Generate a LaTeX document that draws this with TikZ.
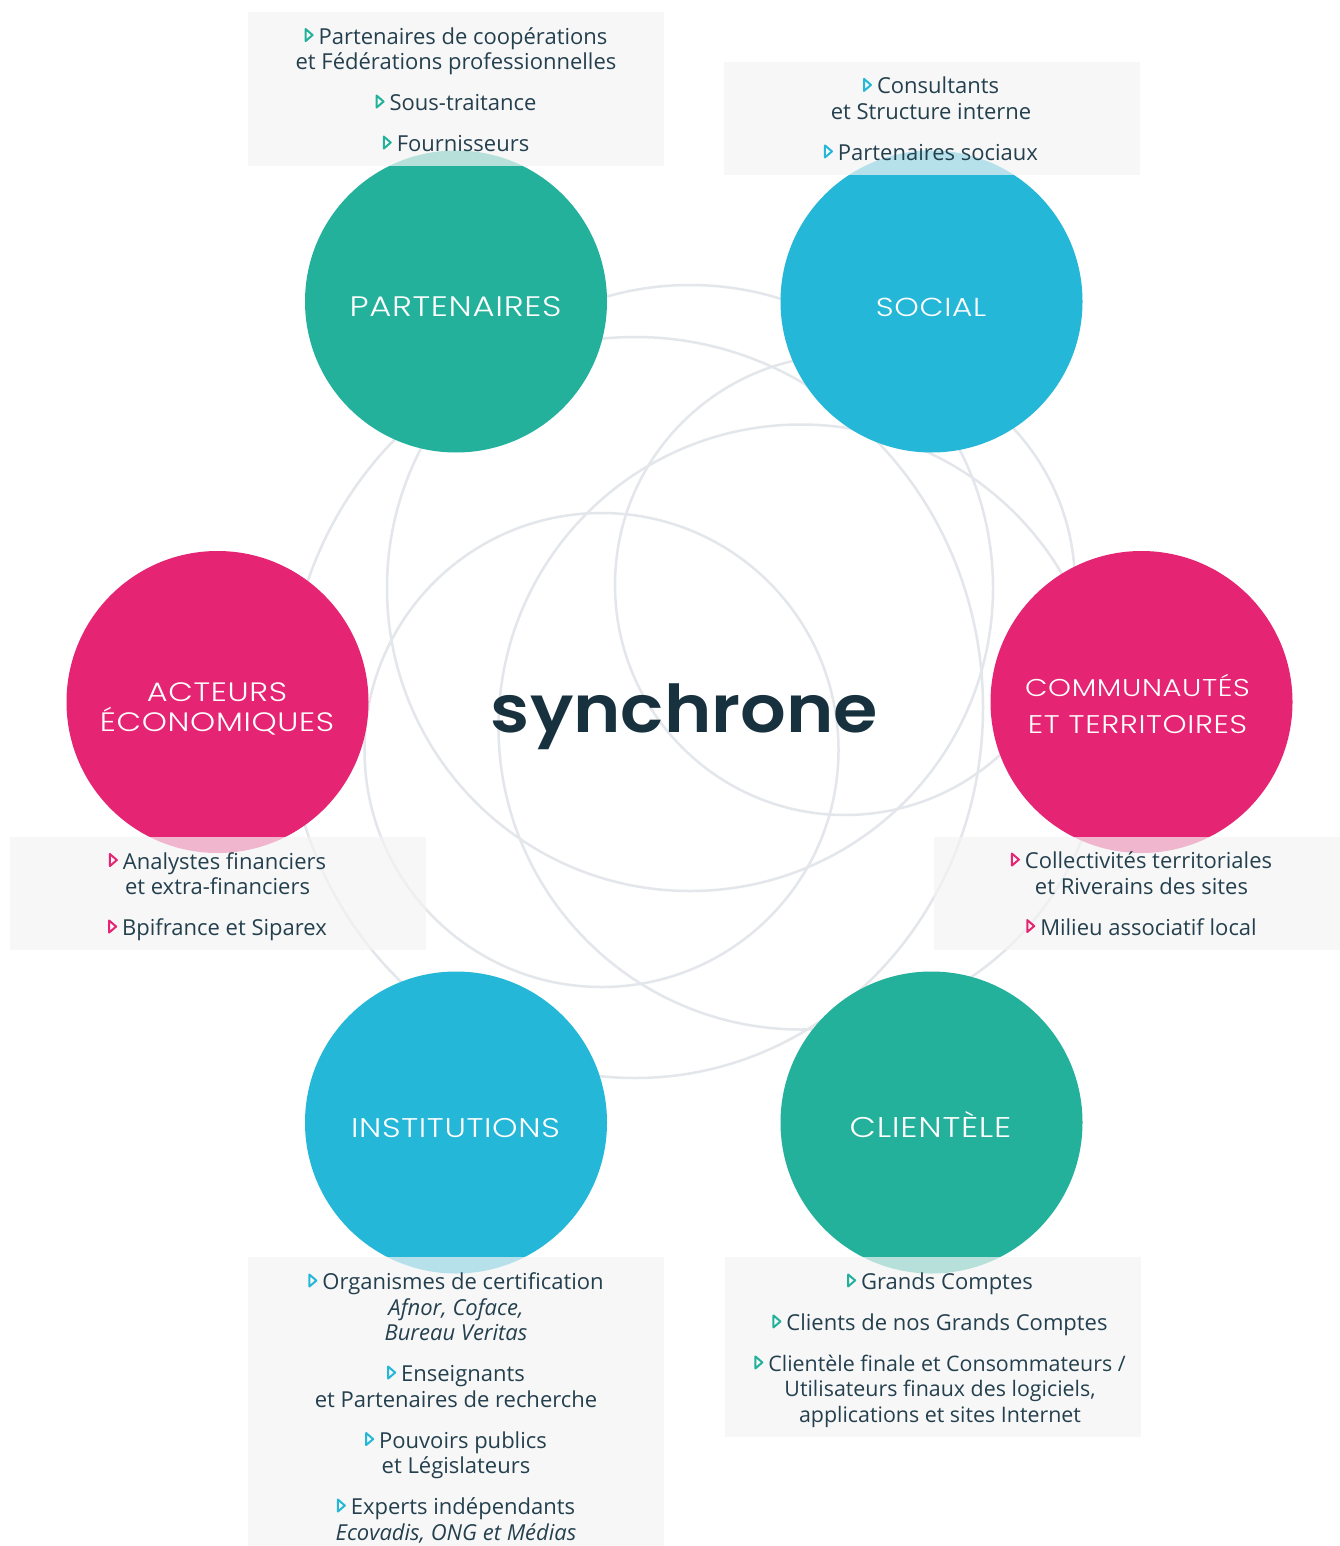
\documentclass[tikz,border=0pt]{standalone}
\usepackage{fontspec}
\usepackage{graphicx}
\setmainfont{Open Sans}
\newfontfamily\lblfont[UprightFont=* Light,FakeStretch=1.2,LetterSpace=2.5]{Poppins}
\newfontfamily\logofont[UprightFont=* SemiBold]{Poppins}
\definecolor{teal1}{HTML}{24B19C}
\definecolor{blue1}{HTML}{25B7D8}
\definecolor{pink1}{HTML}{E52574}
\definecolor{ink}{HTML}{24404E}
\definecolor{logoink}{HTML}{17313E}
\definecolor{ringgrey}{HTML}{E3E6EA}
\definecolor{boxgrey}{HTML}{F4F4F4}
\newcommand{\mrk}[1]{\tikz[baseline=-3pt,x=1pt,y=1pt]\draw[#1,line width=2pt,line join=round](1,0)--(1,12)--(8,6)--cycle;\hspace{5pt}}
\newcommand{\smalltxt}{\fontsize{21.4}{25.5}\selectfont}
\tikzset{
  ring/.style={draw=ringgrey,line width=2.5pt},
  disc/.style={circle,minimum size=302pt,inner sep=0pt},
  lbl/.style={text=white,font=\lblfont\fontsize{#1}{30}\selectfont,inner sep=0pt,anchor=base},
  panel/.style={fill=boxgrey,fill opacity=.7},
  itemtxt/.style={text=ink,font=\fontsize{22}{25.5}\selectfont,align=center,inner sep=0pt,anchor=north}
}
\begin{document}
\begin{tikzpicture}[x=1pt,y=-1pt]
                      \useasboundingbox (0,0) rectangle (1340,1546);
                      \fill[white] (0,0) rectangle (1340,1546);
                      \foreach \cx/\cy/\rx/\ry in {690/588/303/303, 635/707.5/348/370.5, 845/585/230/230, 801/727/302.5/302.5, 601.5/750/237/237}
                        \draw[ring] (\cx,\cy) circle[x radius=\rx,y radius=\ry];
                      \node[disc,fill=teal1](part)at(456,301.5){};
                      \node[disc,fill=blue1](soc)at(931.5,301.5){};
                      \node[disc,fill=pink1](act)at(217.5,702){};
                      \node[disc,fill=pink1](comm)at(1141.5,702){};
                      \node[disc,fill=blue1](inst)at(456,1122.5){};
                      \node[disc,fill=teal1](cli)at(931.5,1122.5){};
                      \fill[panel] (248,12) rectangle (664,166);
                      \fill[panel] (724,62) rectangle (1140,175);
                      \fill[panel] (10,837) rectangle (426,950);
                      \fill[panel] (934,837) rectangle (1340,950);
                      \fill[panel] (248,1257) rectangle (664,1546);
                      \fill[panel] (725,1257) rectangle (1141,1437);
                      \node[lbl=28.2](partl)at(455.5,316){PARTENAIRES};
                      \node[lbl=26](socl)at(931,316){SOCIAL};
                      \node[lbl=26.6](actla)at(217,701){ACTEURS};
                      \node[lbl=26.6](actlb)at(217,731){ÉCONOMIQUES};
                      \node[lbl=24.3](commla)at(1137.5,696){COMMUNAUTÉS};
                      \node[lbl=25.5](commlb)at(1137.5,733){ET TERRITOIRES};
                      \node[lbl=27](instl)at(455.5,1137){INSTITUTIONS};
                      \node[lbl=28.5](clil)at(930.5,1137){CLIENTÈLE};
                      \node[text=logoink,font=\logofont,inner sep=0pt,anchor=base](logo)at(684.5,732){\resizebox*{387pt}{66pt}{synchrone}};
                      \node[itemtxt](parttxt)at(456,27){\mrk{teal1}Partenaires de coopérations\\et Fédérations professionnelles\\[15.5pt]\mrk{teal1}Sous-traitance\\[15.5pt]\mrk{teal1}Fournisseurs};
                      \node[itemtxt](soctxt)at(931,77){\mrk{blue1}Consultants\\et Structure interne\\[15.5pt]\mrk{blue1}Partenaires sociaux};
                      \node[itemtxt](acttxt)at(217.5,852){\mrk{pink1}Analystes financiers\\et extra-financiers\\[15.5pt]\mrk{pink1}Bpifrance et Siparex};
                      \node[itemtxt](commtxt)at(1141.5,851.5){\mrk{pink1}Collectivités territoriales\\et Riverains des sites\\[15.5pt]\mrk{pink1}Milieu associatif local};
                      \node[itemtxt](insttxt)at(456,1272.5){\mrk{blue1}Organismes de certification\\\textit{Afnor, Coface,}\\\textit{Bureau Veritas}\\[15.5pt]\mrk{blue1}Enseignants\\et Partenaires de recherche\\[15.5pt]\mrk{blue1}Pouvoirs publics\\et Législateurs\\[15.5pt]\mrk{blue1}Experts indépendants\\\textit{Ecovadis, ONG et Médias}};
                      \node[itemtxt](clitxt)at(940,1272.5){\mrk{teal1}Grands Comptes\\[15.5pt]\mrk{teal1}Clients de nos Grands Comptes\\[15.5pt]\mrk{teal1}{\smalltxt Clientèle finale et Consommateurs /}\\{\smalltxt Utilisateurs finaux des logiciels,}\\{\smalltxt applications et sites Internet}};
                  \end{tikzpicture}
\end{document}
